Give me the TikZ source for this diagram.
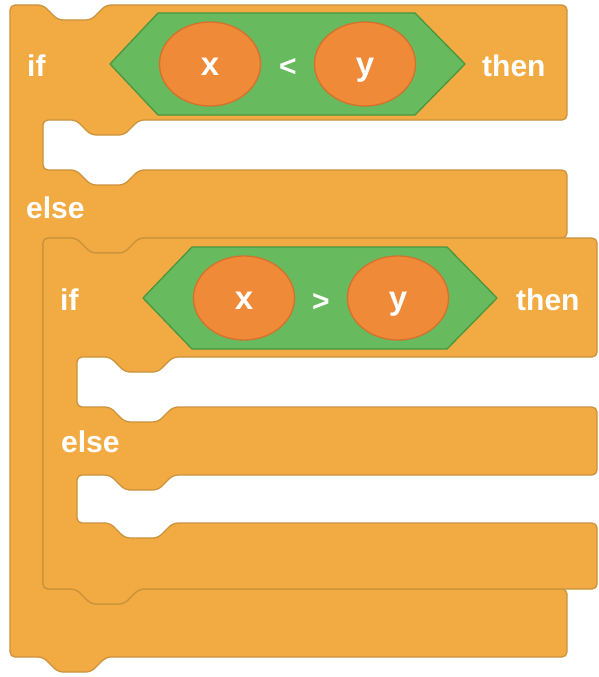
\documentclass[tikz,border=0pt]{standalone}
\usepackage{fontspec}
\setmainfont{Liberation Sans}
\usetikzlibrary{positioning, shapes.geometric}
\definecolor{ctrlfill}{RGB}{241,171,66}
\definecolor{ctrlline}{RGB}{204,146,60}
\definecolor{opfill}{RGB}{104,186,94}
\definecolor{opline}{RGB}{72,150,62}
\definecolor{varfill}{RGB}{238,138,56}
\definecolor{varline}{RGB}{214,112,44}
\newcommand\blockfont{\fontsize{30}{36}\selectfont\bfseries}
\newcommand\varfont{\fontsize{33}{38}\selectfont\bfseries}

\begin{document}
\begin{tikzpicture}[x=1pt,y=-1pt,on grid,
  block/.style={fill=ctrlfill,draw=ctrlline,line width=1.3pt,rounded corners=5pt},
  cond/.style={fill=opfill,draw=opline,line width=1.3pt,line join=round},
  oval/.style={ellipse,fill=varfill,draw=varline,line width=1.3pt,
    minimum width=101pt,minimum height=84pt,inner sep=0pt,text=white,
    text height=22pt,text depth=0pt,font=\varfont},
  op/.style={text=white,inner sep=0pt,text height=26pt,text depth=0pt,font=\blockfont},
  word/.style={text=white,inner sep=0pt,anchor=base west,font=\blockfont}]

    \useasboundingbox (0,0) rectangle (598,677);

    \draw[block] (10,5) -- (43,5) -- (58,20) -- (91,20) -- (106,5) -- (567,5) -- (567,120)
      -- (139,120) -- (124,135) -- (91,135) -- (76,120) -- (43,120) -- (43,170)
      -- (76,170) -- (91,185) -- (124,185) -- (139,170) -- (567,170) -- (567,238)
      -- (139,238) -- (124,253) -- (91,253) -- (76,238) -- (43,238) -- (43,589)
      -- (76,589) -- (91,604) -- (124,604) -- (139,589) -- (567,589) -- (567,657)
      -- (106,657) -- (91,672) -- (58,672) -- (43,657) -- (10,657) -- cycle;

    \draw[block] (43,238) -- (76,238) -- (91,253) -- (124,253) -- (139,238) -- (597,238) -- (597,357)
      -- (173,357) -- (158,372) -- (125,372) -- (110,357) -- (77,357) -- (77,407)
      -- (110,407) -- (125,422) -- (158,422) -- (173,407) -- (597,407) -- (597,475)
      -- (173,475) -- (158,490) -- (125,490) -- (110,475) -- (77,475) -- (77,523)
      -- (110,523) -- (125,538) -- (158,538) -- (173,523) -- (597,523) -- (597,589)
      -- (139,589) -- (124,604) -- (91,604) -- (76,589) -- (43,589) -- cycle;

    \draw[cond] (110,64) -- (158,13) -- (415,13) -- (465,64) -- (415,115) -- (158,115) -- cycle;
    \draw[cond] (143,298) -- (192,247) -- (447,247) -- (497,298) -- (447,349) -- (192,349) -- cycle;

    \node[oval] (x_a) at (210,64) {x};
    \node[op] (lt) [right=78pt of x_a] {<};
    \node[oval] (y_a) [right=155pt of x_a] {y};

    \node[oval] (x_b) at (244,298) {x};
    \node[op] (gt) [right=77pt of x_b] {>};
    \node[oval] (y_b) [right=154pt of x_b] {y};

    \node[word] (if_a) at (27,76) {if};
    \node[word] (then_a) at (482,76) {then};
    \node[word] (else_a) at (26,218) {else};
    \node[word] (if_b) at (60,310) {if};
    \node[word] (then_b) at (516,310) {then};
    \node[word] (else_b) at (61,452) {else};

\end{tikzpicture}
\end{document}
